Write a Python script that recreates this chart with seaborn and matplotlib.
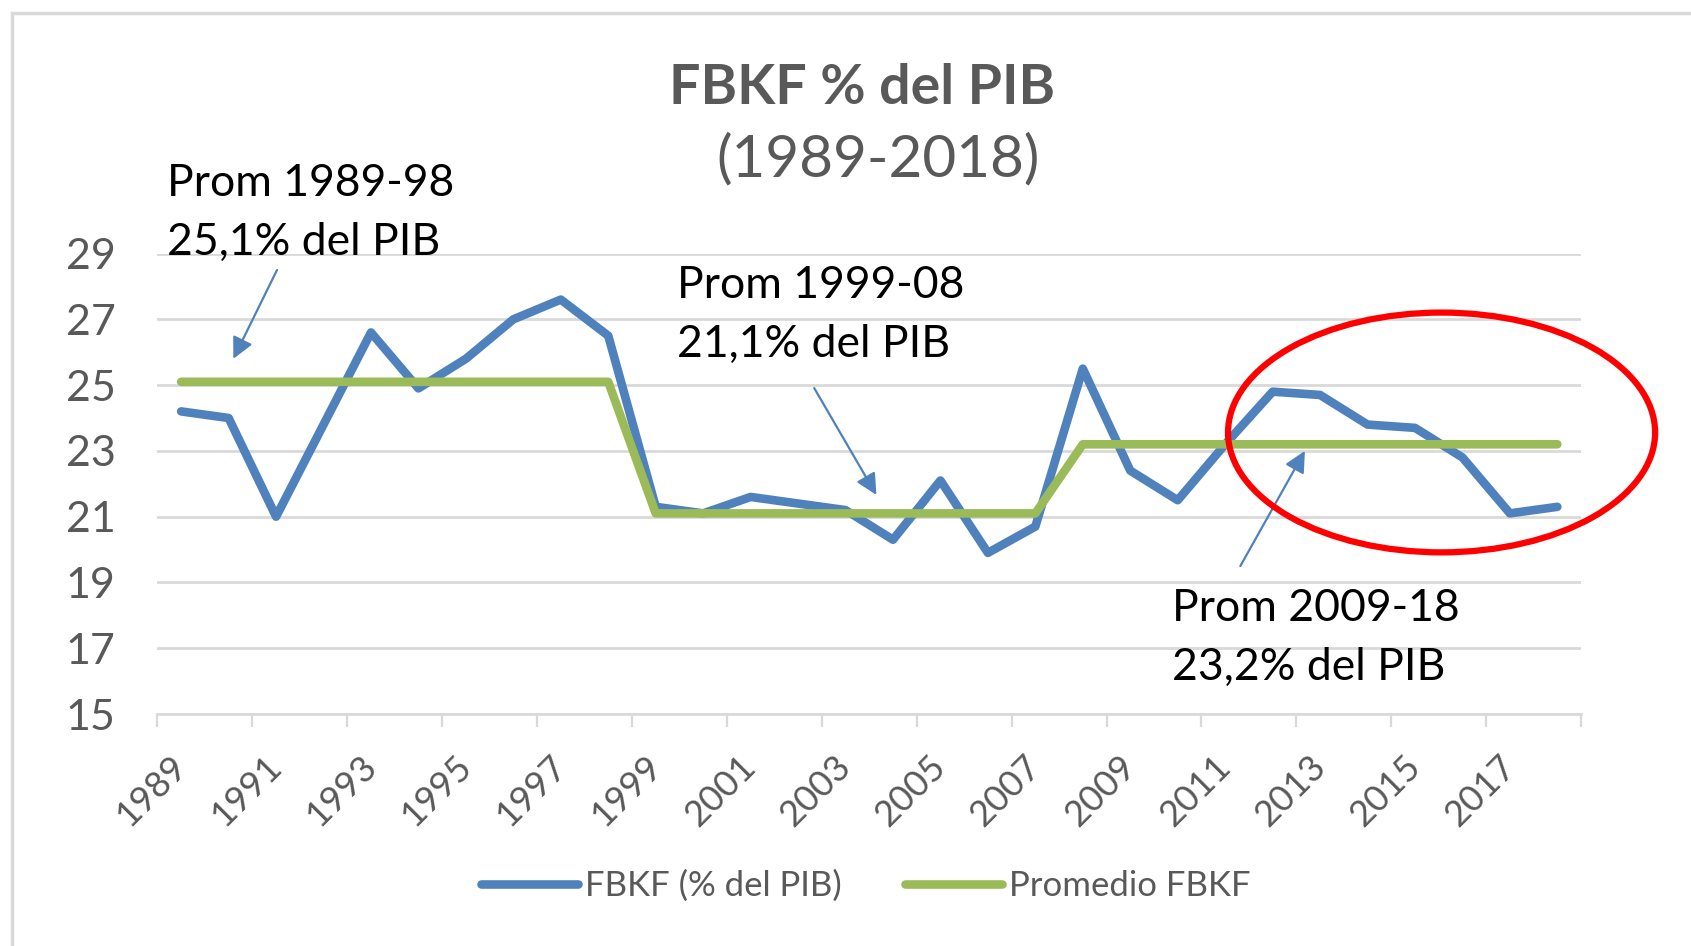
import numpy as np
import pandas as pd
import seaborn as sns
import matplotlib.pyplot as plt
from matplotlib.patches import Ellipse, Rectangle

years = list(range(1989, 2019))
fbkf = [24.2, 24.0, 21.0, 23.8, 26.6, 24.9, 25.8, 27.0, 27.6, 26.5,
        21.3, 21.1, 21.6, 21.4, 21.2, 20.3, 22.1, 19.9, 20.7, 25.5,
        22.4, 21.5, 23.2, 24.8, 24.7, 23.8, 23.7, 22.8, 21.1, 21.3]
promedio = [25.1] * 10 + [21.1] * 9 + [23.2] * 11
series_names = ["FBKF (% del PIB)", "Promedio FBKF"]
annot_texts = ["Prom 1989-98\n25,1% del PIB",
               "Prom 1999-08\n21,1% del PIB",
               "Prom 2009-18\n23,2% del PIB"]

df = pd.DataFrame({
    "year": years * 2,
    "value": fbkf + promedio,
    "serie": [series_names[0]] * len(years) + [series_names[1]] * len(years),
})

blue = "#4f81bd"
green = "#9bbb59"
gray_txt = "#595959"
grid_c = "#d9d9d9"

sns.set_theme(style="white")
plt.rcParams["font.family"] = ["Lato", "DejaVu Sans"]

fig = plt.figure(figsize=(16.91, 9.46), dpi=100)
ax = fig.add_axes([0.0931, 0.2452, 0.935 - 0.0931, 0.732 - 0.2452])

sns.lineplot(data=df, x="year", y="value", hue="serie",
             palette={series_names[0]: blue, series_names[1]: green},
             linewidth=6.2, ax=ax, solid_capstyle="round", solid_joinstyle="round")

ax.set_xlim(1988.5, 2018.5)
ax.set_ylim(15, 29)
ax.set_yticks(range(15, 30, 2))
ax.set_xticks(years[::2])
ax.set_xticklabels([str(y) for y in years[::2]], rotation=45, ha="right",
                   va="center", rotation_mode="anchor")
ax.set_xticks(np.arange(1988.5, 2019, 2), minor=True)
ax.tick_params(axis="x", which="major", length=0, pad=34, labelsize=26, labelcolor=gray_txt)
ax.tick_params(axis="x", which="minor", length=9, width=1.6, color=grid_c, bottom=True)
ax.tick_params(axis="y", length=0, pad=30, labelsize=31, labelcolor=gray_txt)
ax.set_xlabel("")
ax.set_ylabel("")
ax.yaxis.grid(True, color=grid_c, linewidth=2.0)
ax.set_axisbelow(True)
for s in ["top", "right", "left"]:
    ax.spines[s].set_visible(False)
ax.spines["bottom"].set_color(grid_c)
ax.spines["bottom"].set_linewidth(2.0)

# Annotations
ax.text(1988.70, 30.24, annot_texts[0], fontsize=32, va="center", ha="left",
        linespacing=1.53, color="black")
ax.text(1999.45, 27.13, annot_texts[1], fontsize=32, va="center", ha="left",
        linespacing=1.53, color="black")
ax.text(2009.88, 17.31, annot_texts[2], fontsize=32, va="center", ha="left",
        linespacing=1.53, color="black")

arrow_kw = dict(arrowstyle="-|>", color=blue, lw=1.6, mutation_scale=32,
                shrinkA=0, shrinkB=0)
ax.annotate("", xy=(1990.10, 25.80), xytext=(1991.02, 28.50), arrowprops=arrow_kw)
ax.annotate("", xy=(2003.65, 21.66), xytext=(2002.34, 24.91), arrowprops=arrow_kw)
ax.annotate("", xy=(2012.68, 23.00), xytext=(2011.32, 19.50), arrowprops=arrow_kw)

ax.add_patch(Ellipse((2015.56, 23.56), 9.0, 7.29, fill=False, edgecolor="#ff0000",
                     linewidth=4.5, clip_on=False, zorder=5))

# Titles
fig.text(0.510, 0.907, "FBKF % del PIB", fontsize=40, fontweight="bold",
         color=gray_txt, ha="center", va="center")
fig.text(0.519, 0.831, "(1989-2018)", fontsize=42, color=gray_txt,
         ha="center", va="center")

# Legend
ax.legend(loc="center", bbox_to_anchor=(0.512, 0.0634), bbox_transform=fig.transFigure,
          ncol=2, frameon=False, fontsize=25, handlelength=2.8, handletextpad=0.2,
          columnspacing=1.8, labelcolor=gray_txt)

# Chart border
fig.patches.append(Rectangle((12 / 1691, -0.1), 1.2, 1.1 - 13 / 946,
                             transform=fig.transFigure, fill=False,
                             edgecolor=grid_c, linewidth=2.5))

fig.savefig("out.png", dpi=100)
